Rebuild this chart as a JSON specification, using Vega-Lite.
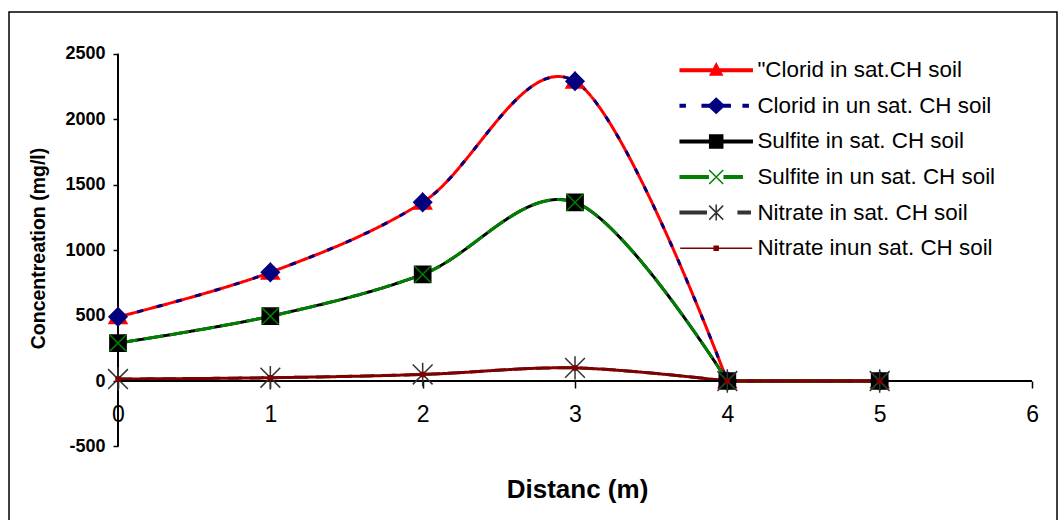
{
  "$schema": "https://vega.github.io/schema/vega-lite/v6.json",
  "width": 1048,
  "height": 513,
  "autosize": {"type": "none"},
  "padding": {"left": 9, "top": 12, "right": 1, "bottom": 0},
  "background": "white",
  "config": {
    "view": {"stroke": "black", "strokeWidth": 1.5},
    "font": "Liberation Sans"
  },
  "data": {
    "values": [
      {"series": "\"Clorid in sat.CH soil", "x": 0, "y": 490},
      {"series": "\"Clorid in sat.CH soil", "x": 1, "y": 830},
      {"series": "\"Clorid in sat.CH soil", "x": 2, "y": 1365},
      {"series": "\"Clorid in sat.CH soil", "x": 3, "y": 2290},
      {"series": "\"Clorid in sat.CH soil", "x": 4, "y": 0},
      {"series": "\"Clorid in sat.CH soil", "x": 5, "y": 0},
      {"series": "Clorid in un sat. CH soil", "x": 0, "y": 490},
      {"series": "Clorid in un sat. CH soil", "x": 1, "y": 830},
      {"series": "Clorid in un sat. CH soil", "x": 2, "y": 1365},
      {"series": "Clorid in un sat. CH soil", "x": 3, "y": 2290},
      {"series": "Clorid in un sat. CH soil", "x": 4, "y": 0},
      {"series": "Clorid in un sat. CH soil", "x": 5, "y": 0},
      {"series": "Sulfite in sat. CH soil", "x": 0, "y": 290},
      {"series": "Sulfite in sat. CH soil", "x": 1, "y": 495},
      {"series": "Sulfite in sat. CH soil", "x": 2, "y": 815},
      {"series": "Sulfite in sat. CH soil", "x": 3, "y": 1365},
      {"series": "Sulfite in sat. CH soil", "x": 4, "y": 0},
      {"series": "Sulfite in sat. CH soil", "x": 5, "y": 0},
      {"series": "Sulfite in un sat. CH soil", "x": 0, "y": 290},
      {"series": "Sulfite in un sat. CH soil", "x": 1, "y": 495},
      {"series": "Sulfite in un sat. CH soil", "x": 2, "y": 815},
      {"series": "Sulfite in un sat. CH soil", "x": 3, "y": 1365},
      {"series": "Sulfite in un sat. CH soil", "x": 4, "y": 0},
      {"series": "Sulfite in un sat. CH soil", "x": 5, "y": 0},
      {"series": "Nitrate in sat. CH soil", "x": 0, "y": 15},
      {"series": "Nitrate in sat. CH soil", "x": 1, "y": 25},
      {"series": "Nitrate in sat. CH soil", "x": 2, "y": 50},
      {"series": "Nitrate in sat. CH soil", "x": 3, "y": 100},
      {"series": "Nitrate in sat. CH soil", "x": 4, "y": 0},
      {"series": "Nitrate in sat. CH soil", "x": 5, "y": 0},
      {"series": "Nitrate inun sat. CH soil", "x": 0, "y": 15},
      {"series": "Nitrate inun sat. CH soil", "x": 1, "y": 25},
      {"series": "Nitrate inun sat. CH soil", "x": 2, "y": 50},
      {"series": "Nitrate inun sat. CH soil", "x": 3, "y": 100},
      {"series": "Nitrate inun sat. CH soil", "x": 4, "y": 0},
      {"series": "Nitrate inun sat. CH soil", "x": 5, "y": 0}
    ]
  },
  "layer": [
    {
      "mark": {"type": "line", "interpolate": "cardinal", "clip": false},
      "transform": [{"filter": "datum.x <= 4"}],
      "encoding": {
        "x": {
          "field": "x", "type": "quantitative",
          "scale": {"domain": [-0.7155, 6.164], "nice": false, "zero": false},
          "axis": {
            "orient": "bottom", "offset": -144, "domain": false, "grid": false,
            "values": [0, 1, 2, 3, 4, 5, 6], "labelExpr": "'' + datum.value", "tickSize": 7, "tickColor": "black", "tickWidth": 1.5,
            "labelFontSize": 23, "labelColor": "black", "labelPadding": 15, "labelFlush": false, "labelOverlap": false,
            "title": "Distanc (m)", "titleFontSize": 26, "titleFontWeight": "bold", "titleColor": "black",
            "titleX": 568, "titleY": 108, "titleBaseline": "middle", "titleAlign": "center"
          }
        },
        "y": {
          "field": "y", "type": "quantitative",
          "scale": {"domain": [-1100, 2819], "nice": false, "zero": false},
          "axis": {
            "orient": "left", "offset": -109, "domain": false, "grid": false,
            "values": [-500, 0, 500, 1000, 1500, 2000, 2500], "labelExpr": "'' + datum.value", "tickSize": 5, "tickColor": "black", "tickWidth": 1.5,
            "labelFontSize": 18, "labelFontWeight": "bold", "labelColor": "black", "labelPadding": 8, "labelFlush": false, "labelOverlap": false,
            "title": "Concentreation (mg/l)", "titleFontSize": 19.5, "titleFontWeight": "bold", "titleColor": "black",
            "titleX": -80, "titleY": 236, "titleAngle": -90, "titleAlign": "center", "titleBaseline": "middle"
          }
        },
        "detail": {"field": "series"},
        "stroke": {
          "field": "series", "type": "nominal", "legend": null,
          "scale": {
            "domain": ["\"Clorid in sat.CH soil", "Clorid in un sat. CH soil", "Sulfite in sat. CH soil", "Sulfite in un sat. CH soil", "Nitrate in sat. CH soil", "Nitrate inun sat. CH soil"],
            "range": ["#FF0000", "#000080", "#000000", "#008000", "#333333", "#800000"]
          }
        },
        "strokeDash": {
          "field": "series", "type": "nominal", "legend": null,
          "scale": {
            "domain": ["\"Clorid in sat.CH soil", "Clorid in un sat. CH soil", "Sulfite in sat. CH soil", "Sulfite in un sat. CH soil", "Nitrate in sat. CH soil", "Nitrate inun sat. CH soil"],
            "range": [[1, 0], [6, 14], [1, 0], [20, 6], [14, 8], [1, 0]]
          }
        },
        "strokeWidth": {
          "field": "series", "type": "nominal", "legend": null,
          "scale": {
            "domain": ["\"Clorid in sat.CH soil", "Clorid in un sat. CH soil", "Sulfite in sat. CH soil", "Sulfite in un sat. CH soil", "Nitrate in sat. CH soil", "Nitrate inun sat. CH soil"],
            "range": [3, 3, 3, 3, 3, 1.5]
          }
        }
      }
    },
    {
      "data": {"values": [{}]},
      "mark": {"type": "rule", "color": "black", "strokeWidth": 2},
      "encoding": {
        "x": {"datum": 0, "type": "quantitative"},
        "y": {"datum": -500, "type": "quantitative"},
        "y2": {"datum": 2500}
      }
    },
    {
      "data": {"values": [{}]},
      "mark": {"type": "rule", "color": "black", "strokeWidth": 2},
      "encoding": {
        "y": {"datum": 0, "type": "quantitative"},
        "x": {"datum": 0, "type": "quantitative"},
        "x2": {"datum": 6}
      }
    },
    {
      "mark": {"type": "line", "interpolate": "linear", "clip": false},
      "transform": [{"filter": "datum.x >= 4"}],
      "encoding": {
        "x": {"field": "x", "type": "quantitative"},
        "y": {"field": "y", "type": "quantitative"},
        "detail": {"field": "series"},
        "stroke": {
          "field": "series", "type": "nominal", "legend": null,
          "scale": {
            "domain": ["\"Clorid in sat.CH soil", "Clorid in un sat. CH soil", "Sulfite in sat. CH soil", "Sulfite in un sat. CH soil", "Nitrate in sat. CH soil", "Nitrate inun sat. CH soil"],
            "range": ["#FF0000", "#000080", "#000000", "#008000", "#333333", "#800000"]
          }
        },
        "strokeDash": {
          "field": "series", "type": "nominal", "legend": null,
          "scale": {
            "domain": ["\"Clorid in sat.CH soil", "Clorid in un sat. CH soil", "Sulfite in sat. CH soil", "Sulfite in un sat. CH soil", "Nitrate in sat. CH soil", "Nitrate inun sat. CH soil"],
            "range": [[1, 0], [6, 14], [1, 0], [20, 6], [14, 8], [1, 0]]
          }
        },
        "strokeWidth": {
          "field": "series", "type": "nominal", "legend": null,
          "scale": {
            "domain": ["\"Clorid in sat.CH soil", "Clorid in un sat. CH soil", "Sulfite in sat. CH soil", "Sulfite in un sat. CH soil", "Nitrate in sat. CH soil", "Nitrate inun sat. CH soil"],
            "range": [3, 3, 3, 3, 3, 1.5]
          }
        }
      }
    },
    {
      "mark": {"type": "point", "filled": true, "size": 324, "strokeWidth": 1.5, "opacity": 1, "clip": false},
      "encoding": {
        "x": {"field": "x", "type": "quantitative"},
        "y": {"field": "y", "type": "quantitative"},
        "shape": {
          "field": "series", "type": "nominal", "legend": null,
          "scale": {
            "domain": ["\"Clorid in sat.CH soil", "Clorid in un sat. CH soil", "Sulfite in sat. CH soil", "Sulfite in un sat. CH soil", "Nitrate in sat. CH soil", "Nitrate inun sat. CH soil"],
            "range": [
              "M0,-1L1,0.75L-1,0.75Z",
              "M-1,0L0,-1L1,0L0,1Z",
              "M-0.9,-0.9H0.9V0.9H-0.9Z",
              "M-0.9,-0.9L0.9,0.9M-0.9,0.9L0.9,-0.9",
              "M-1.1,-1.1L1.1,1.1M-1.1,1.1L1.1,-1.1M0,-1.3V1.3",
              "M-0.22,-0.22H0.22V0.22H-0.22Z"
            ]
          }
        },
        "fill": {
          "field": "series", "type": "nominal", "legend": null,
          "scale": {
            "domain": ["\"Clorid in sat.CH soil", "Clorid in un sat. CH soil", "Sulfite in sat. CH soil", "Sulfite in un sat. CH soil", "Nitrate in sat. CH soil", "Nitrate inun sat. CH soil"],
            "range": ["#FF0000", "#000080", "#000000", "#008000", "#333333", "#800000"]
          }
        },
        "stroke": {
          "field": "series", "type": "nominal", "legend": null,
          "scale": {
            "domain": ["\"Clorid in sat.CH soil", "Clorid in un sat. CH soil", "Sulfite in sat. CH soil", "Sulfite in un sat. CH soil", "Nitrate in sat. CH soil", "Nitrate inun sat. CH soil"],
            "range": ["#FF0000", "#000080", "#000000", "#008000", "#333333", "#800000"]
          }
        }
      }
    },
    {
      "mark": {"type": "point", "filled": true, "size": 100, "opacity": 0, "strokeWidth": 1.5},
      "encoding": {
        "x": {"field": "x", "type": "quantitative"},
        "y": {"field": "y", "type": "quantitative"},
        "shape": {
          "field": "series", "type": "nominal",
          "legend": {"title": null, "orient": "none", "legendX": 671, "legendY": 47, "padding": 0, "symbolSize": 100, "symbolStrokeWidth": 1.5, "symbolOffset": 25, "labelOffset": 30, "labelFontSize": 22.4, "labelFont": "Liberation Sans", "labelColor": "black", "labelLimit": 400, "rowPadding": 12.6, "symbolOpacity": 1},
          "scale": {
            "domain": ["\"Clorid in sat.CH soil", "Clorid in un sat. CH soil", "Sulfite in sat. CH soil", "Sulfite in un sat. CH soil", "Nitrate in sat. CH soil", "Nitrate inun sat. CH soil"],
            "range": [
              "M-7.2,-0.25H7.2V0.25H-7.2ZM0,-1.3L1.2,0.95L-1.2,0.95Z",
              "M-7.2,-0.25H-6.2V0.25H-7.2ZM-2.8,-0.25H-1.2V0.25H-2.8ZM1.2,-0.25H2.8V0.25H1.2ZM5.4,-0.25H6.4V0.25H5.4ZM-1.6,0L0,-1.5L1.6,0L0,1.5Z",
              "M-7.2,-0.25H7.2V0.25H-7.2ZM-1.3,-1.3H1.3V1.3H-1.3Z",
              "M-7.2,-0.25H-1.6V0.25H-7.2ZM1.6,-0.25H5.2V0.25H1.6ZM-1.4,-1.4L1.4,1.4M-1.4,1.4L1.4,-1.4",
              "M-7.2,-0.25H-2V0.25H-7.2ZM4.4,-0.25H6.8V0.25H4.4ZM-1.4,-1.4L1.4,1.4M-1.4,1.4L1.4,-1.4M0,-1.6V1.6",
              "M-7.2,0H7.2M-0.4,-0.4H0.4V0.4H-0.4Z"
            ]
          }
        },
        "fill": {
          "field": "series", "type": "nominal",
          "legend": {"title": null, "orient": "none", "legendX": 671, "legendY": 47, "padding": 0, "symbolSize": 100, "symbolStrokeWidth": 1.5, "symbolOffset": 25, "labelOffset": 30, "labelFontSize": 22.4, "labelFont": "Liberation Sans", "labelColor": "black", "labelLimit": 400, "rowPadding": 12.6, "symbolOpacity": 1},
          "scale": {
            "domain": ["\"Clorid in sat.CH soil", "Clorid in un sat. CH soil", "Sulfite in sat. CH soil", "Sulfite in un sat. CH soil", "Nitrate in sat. CH soil", "Nitrate inun sat. CH soil"],
            "range": ["#FF0000", "#000080", "#000000", "#008000", "#333333", "#800000"]
          }
        },
        "stroke": {
          "field": "series", "type": "nominal",
          "legend": {"title": null, "orient": "none", "legendX": 671, "legendY": 47, "padding": 0, "symbolSize": 100, "symbolStrokeWidth": 1.5, "symbolOffset": 25, "labelOffset": 30, "labelFontSize": 22.4, "labelFont": "Liberation Sans", "labelColor": "black", "labelLimit": 400, "rowPadding": 12.6, "symbolOpacity": 1},
          "scale": {
            "domain": ["\"Clorid in sat.CH soil", "Clorid in un sat. CH soil", "Sulfite in sat. CH soil", "Sulfite in un sat. CH soil", "Nitrate in sat. CH soil", "Nitrate inun sat. CH soil"],
            "range": ["#FF0000", "#000080", "#000000", "#008000", "#333333", "#800000"]
          }
        }
      }
    }
  ],
  "resolve": {
    "scale": {"stroke": "independent", "fill": "independent", "shape": "independent", "strokeDash": "independent", "strokeWidth": "independent"}
  }
}
